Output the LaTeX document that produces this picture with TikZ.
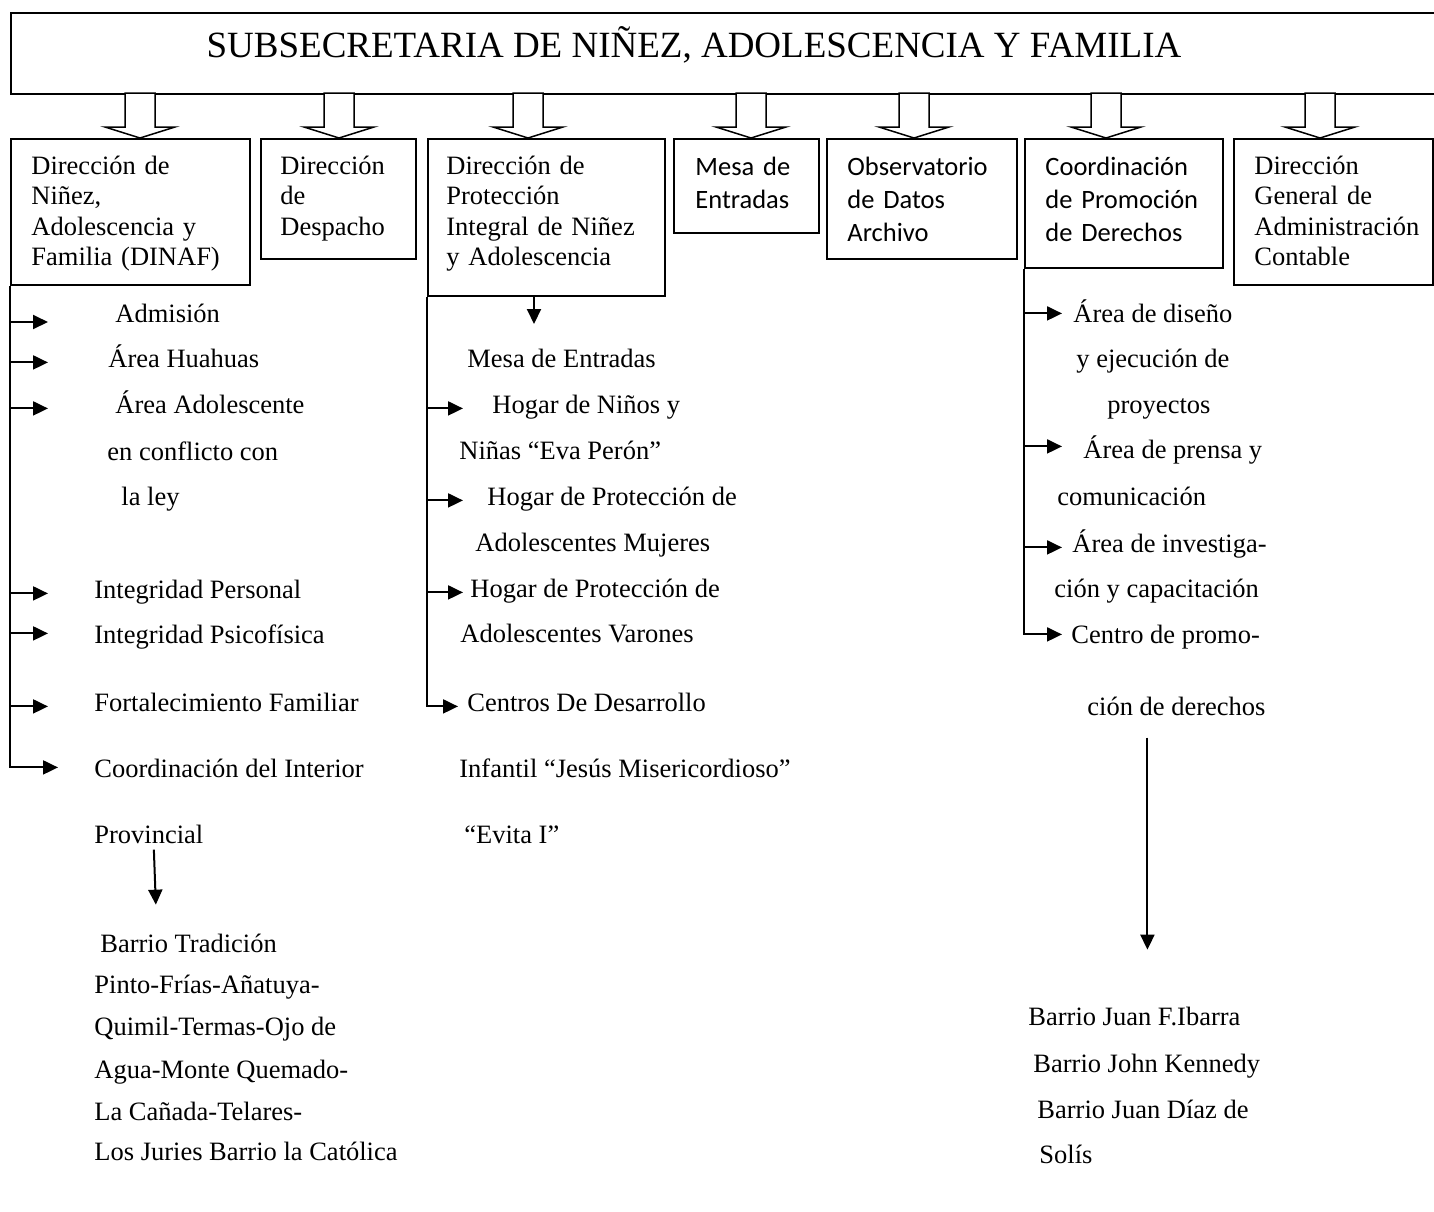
\documentclass[tikz,border=0pt]{standalone}
\usepackage{fontspec}
\setmainfont{Liberation Serif}
\newfontfamily\calibri{Carlito}
\usetikzlibrary{arrows.meta}
\tikzset{caja/.style={draw, line width=1pt, anchor=north west, inner sep=0pt},
  textocaja/.style={anchor=base west, inner sep=0pt, align=left, text width=110pt,
    font=\fontsize{13.25}{15.25}\selectfont},
  textosans/.style={textocaja, font=\calibri\fontsize{13.25}{16.5}\selectfont},
  hoja/.style={anchor=base west, inner sep=0pt, font=\fontsize{13.25}{16}\selectfont},
  flecha/.style={-{Triangle[length=7.5pt,width=7pt]}, line width=1pt},
  bloque/.style={line width=0.75pt, fill=white, line join=miter}}

\begin{document}
\begin{tikzpicture}[x=0.5pt, y=-0.5pt]
    \useasboundingbox (0,0) rectangle (1434,1211);

    \node[caja, minimum width=715pt, minimum height=40.5pt] (subsecretaria) at (10,12) {};
    \node[anchor=base, inner sep=0pt, font=\fontsize{18.5}{22}\selectfont] (t-subsecretaria)
      at ([shift={(684,45)}]subsecretaria.north west)
      {SUBSECRETARIA DE NIÑEZ, ADOLESCENCIA Y FAMILIA};

    \node[caja, minimum width=119.5pt, minimum height=73pt] (dinaf) at (10,138) {};
    \node[caja, minimum width=77.5pt, minimum height=60pt] (despacho) at (260,138) {};
    \node[caja, minimum width=118.5pt, minimum height=78.5pt] (proteccion) at (427,138) {};
    \node[caja, minimum width=72.5pt, minimum height=47pt] (mesa) at (673,138) {};
    \node[caja, minimum width=95pt, minimum height=60pt] (observatorio) at (826,138) {};
    \node[caja, minimum width=99pt, minimum height=64.5pt] (promocion) at (1024,138) {};
    \node[caja, minimum width=99.5pt, minimum height=73pt] (administracion) at (1233,138) {};

    \node[textocaja] (t-dinaf) at ([shift={(21,36)}]dinaf.north west)
      {Dirección de\\ Niñez,\\ Adolescencia y\\ Familia (DINAF)};
    \node[textocaja] (t-despacho) at ([shift={(20,36)}]despacho.north west)
      {Dirección\\ de\\ Despacho};
    \node[textocaja] (t-proteccion) at ([shift={(19,36)}]proteccion.north west)
      {Dirección de\\ Protección\\ Integral de Niñez\\ y Adolescencia};
    \node[textosans] (t-mesa) at ([shift={(22,37)}]mesa.north west)
      {Mesa de\\ Entradas};
    \node[textosans] (t-observatorio) at ([shift={(21,37)}]observatorio.north west)
      {Observatorio\\ de Datos\\ Archivo};
    \node[textosans] (t-promocion) at ([shift={(21,37)}]promocion.north west)
      {Coordinación\\ de Promoción\\ de Derechos};
    \node[textocaja] (t-administracion) at ([shift={(21,36)}]administracion.north west)
      {Dirección\\ General de\\ Administración\\ Contable};

    \foreach \caja/\dx in {dinaf/9.5, despacho/0.5, proteccion/-18.5, mesa/4.5,
        observatorio/-8, promocion/-18, administracion/-13.5}
      \draw[bloque] ([xshift=\dx*0.5pt]\caja.north) -- ++(-35,-11) -- ++(20,0)
        -- ++(0,-34) -- ++(30,0) -- ++(0,34) -- ++(20,0) -- cycle;

    % DINAF
    \node[hoja] (admision) at (115,322) {Admisión};
    \node[hoja] (huahuas) at (108,367) {Área Huahuas};
    \node[hoja] (adolescente) at (115,413) {Área Adolescente};
    \node[hoja] (conflicto) at (107,460) {en conflicto con};
    \node[hoja] (ley) at (121,505) {la ley};
    \node[hoja] (personal) at (94,598) {Integridad Personal};
    \node[hoja] (psicofisica) at (94,643) {Integridad Psicofísica};
    \node[hoja] (fortalecimiento) at (94,711) {Fortalecimiento Familiar};
    \node[hoja] (interior) at (94,777) {Coordinación del Interior};
    \node[hoja] (provincial) at (94,843) {Provincial};
    \node[hoja] (tradicion) at (100,952) {Barrio Tradición};
    \node[hoja] (pinto) at (94,993) {Pinto-Frías-Añatuya-};
    \node[hoja] (quimil) at (94,1035) {Quimil-Termas-Ojo de};
    \node[hoja] (agua) at (94,1078) {Agua-Monte Quemado-};
    \node[hoja] (canada) at (94,1120) {La Cañada-Telares-};
    \node[hoja] (juries) at (94,1160) {Los Juries Barrio la Católica};

    \draw[flecha] (dinaf.south west) |- ([xshift=-18pt,yshift=2.5pt]interior.mid west);
    \draw[flecha] (dinaf.south west |- admision.base) -- ++(38,0);
    \draw[flecha] (dinaf.south west |- huahuas.mid) -- ++(38,0);
    \draw[flecha] (dinaf.south west |- adolescente.mid) -- ++(38,0);
    \draw[flecha] (dinaf.south west |- personal.mid) -- ++(38,0);
    \draw[flecha] ([yshift=2.5pt]dinaf.south west |- psicofisica.mid) -- ++(38,0);
    \draw[flecha] (dinaf.south west |- fortalecimiento.mid) -- ++(38,0);
    \draw[flecha] ([xshift=2.5pt,yshift=-3pt]provincial.south) -- ++(2,55);

    % Proteccion Integral
    \node[hoja] (mesaentradas) at (467,367) {Mesa de Entradas};
    \node[hoja] (hogarninos) at (492,413) {Hogar de Niños y};
    \node[hoja] (evaperon) at (459,459) {Niñas “Eva Perón”};
    \node[hoja] (hogarmujeres) at (487,505) {Hogar de Protección de};
    \node[hoja] (mujeres) at (475,551) {Adolescentes Mujeres};
    \node[hoja] (hogarvarones) at (470,597) {Hogar de Protección de};
    \node[hoja] (varones) at (460,642) {Adolescentes Varones};
    \node[hoja] (centros) at (467,711) {Centros De Desarrollo};
    \node[hoja] (infantil) at (459,777) {Infantil “Jesús Misericordioso”};
    \node[hoja] (evita) at (464,843) {“Evita I”};

    \draw[flecha] ([xshift=-6.25pt]proteccion.south) -- ++(0,27);
    \draw[flecha] (proteccion.south west) |- ([xshift=-4.5pt]centros.mid west);
    \draw[flecha] (proteccion.south west |- hogarninos.mid) -- ++(36,0);
    \draw[flecha] (proteccion.south west |- hogarmujeres.mid) -- ++(36,0);
    \draw[flecha] (proteccion.south west |- hogarvarones.mid) -- ++(36,0);

    % Promocion de Derechos
    \node[hoja] (diseno) at (1073,322) {Área de diseño};
    \node[hoja] (ejecucion) at (1076,367) {y ejecución de};
    \node[hoja] (proyectos) at (1107,413) {proyectos};
    \node[hoja] (prensa) at (1083,458) {Área de prensa y};
    \node[hoja] (comunicacion) at (1057,505) {comunicación};
    \node[hoja] (investigacion) at (1072,552) {Área de investiga-};
    \node[hoja] (capacitacion) at (1054,597) {ción y capacitación};
    \node[hoja] (centro) at (1071,643) {Centro de promo-};
    \node[hoja] (derechos) at (1087,715) {ción de derechos};
    \node[hoja] (ibarra) at (1028,1025) {Barrio Juan F.Ibarra};
    \node[hoja] (kennedy) at (1033,1072) {Barrio John Kennedy};
    \node[hoja] (diaz) at (1037,1118) {Barrio Juan Díaz de};
    \node[hoja] (solis) at (1039,1163) {Solís};

    \draw[flecha] (promocion.south west) |- ([xshift=-4.5pt,yshift=2pt]centro.mid west);
    \draw[flecha] ([yshift=2pt]promocion.south west |- diseno.mid) -- ++(38,0);
    \draw[flecha] ([yshift=3.5pt]promocion.south west |- prensa.mid) -- ++(38,0);
    \draw[flecha] (promocion.south west |- investigacion.mid) -- ++(38,0);
    \draw[flecha] ([xshift=-14.5pt,yshift=-11pt]derechos.south) -- ++(0,212);
\end{tikzpicture}
\end{document}
